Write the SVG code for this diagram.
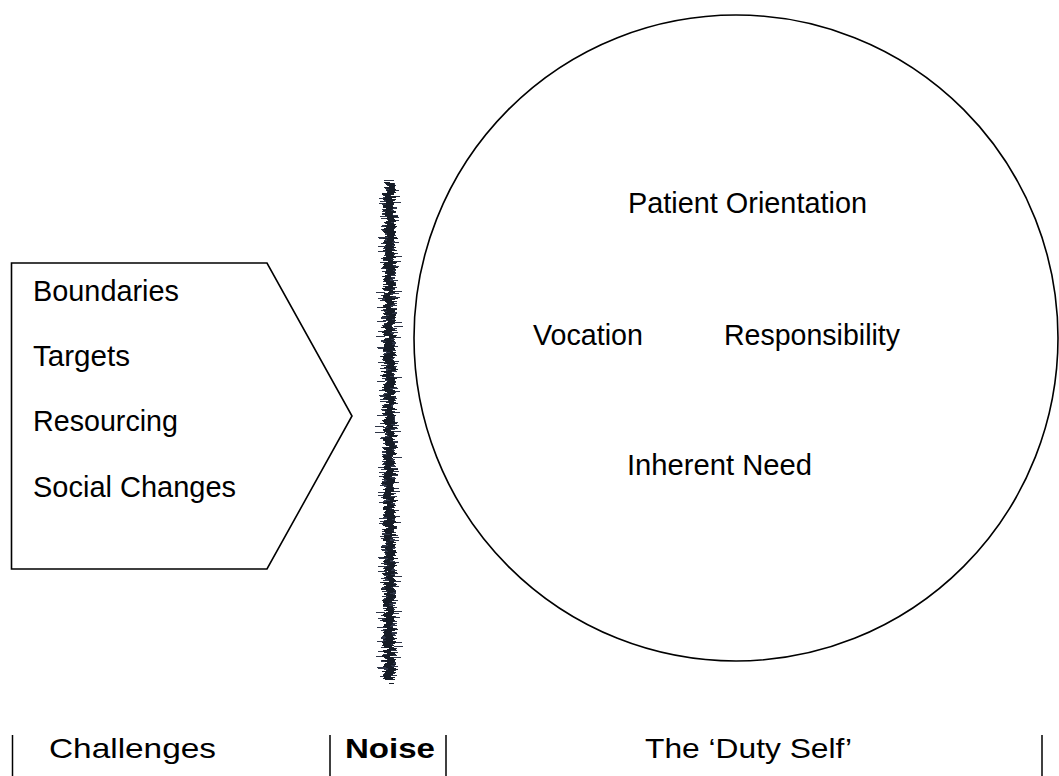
<svg xmlns="http://www.w3.org/2000/svg" width="1059" height="776" viewBox="0 0 1059 776">
  <style>
    .t { font-family: "Liberation Sans", Arial, sans-serif; font-size: 29px; fill: #000; }
    .b { font-family: "Liberation Sans", Arial, sans-serif; font-size: 28px; fill: #000; }
    .shape { fill: #fff; stroke: #000; stroke-width: 1.6; }
    .bar { stroke: #000; stroke-width: 1.5; }
  </style>
  <defs>
    <filter id="rough" x="-300%" y="-5%" width="700%" height="110%">
      <feTurbulence type="fractalNoise" baseFrequency="0.05 0.45" numOctaves="2" seed="7" result="n"/>
      <feDisplacementMap in="SourceGraphic" in2="n" scale="16" xChannelSelector="R" yChannelSelector="G" result="d"/>
      <feGaussianBlur in="d" stdDeviation="0.7"/>
    </filter>
    <filter id="spikes" x="-400%" y="-5%" width="900%" height="110%">
      <feTurbulence type="fractalNoise" baseFrequency="0.01 0.8" numOctaves="1" seed="3" result="n"/>
      <feDisplacementMap in="SourceGraphic" in2="n" scale="40" xChannelSelector="R" yChannelSelector="G" result="d"/>
      <feGaussianBlur in="d" stdDeviation="0.7"/>
    </filter>
  </defs>
  <rect width="1059" height="776" fill="#fff"/>

  <g id="challenges">
    <polygon class="shape" points="11.5,263 267,263 352,416 267,569 11.5,569"/>
    <text class="t" x="33" y="301" textLength="146" lengthAdjust="spacingAndGlyphs">Boundaries</text>
    <text class="t" x="33" y="366" textLength="97" lengthAdjust="spacingAndGlyphs">Targets</text>
    <text class="t" x="33" y="431" textLength="145" lengthAdjust="spacingAndGlyphs">Resourcing</text>
    <text class="t" x="33" y="497" textLength="203" lengthAdjust="spacingAndGlyphs">Social Changes</text>
  </g>

  <g id="noise">
    <rect x="385" y="182" width="9" height="498" fill="#2e3547" filter="url(#spikes)"/>
    <rect x="385" y="182" width="9" height="498" fill="#161b26" filter="url(#rough)"/>
  </g>

  <g id="duty-self">
    <ellipse class="shape" cx="736" cy="338" rx="322" ry="323"/>
    <text class="t" x="628" y="213" textLength="239" lengthAdjust="spacingAndGlyphs">Patient Orientation</text>
    <text class="t" x="533" y="345" textLength="110" lengthAdjust="spacingAndGlyphs">Vocation</text>
    <text class="t" x="724" y="345" textLength="176" lengthAdjust="spacingAndGlyphs">Responsibility</text>
    <text class="t" x="627" y="475" textLength="185" lengthAdjust="spacingAndGlyphs">Inherent Need</text>
  </g>

  <g id="labels">
    <line class="bar" x1="12.5" y1="735" x2="12.5" y2="776"/>
    <line class="bar" x1="330" y1="735" x2="330" y2="776"/>
    <line class="bar" x1="446" y1="735" x2="446" y2="776"/>
    <line class="bar" x1="1042" y1="735" x2="1042" y2="776"/>
    <text class="b" x="49" y="758" textLength="167" lengthAdjust="spacingAndGlyphs">Challenges</text>
    <text class="b" x="345" y="758" font-weight="bold" textLength="90" lengthAdjust="spacingAndGlyphs">Noise</text>
    <text class="b" x="645" y="758" textLength="207" lengthAdjust="spacingAndGlyphs">The ‘Duty Self’</text>
  </g>
</svg>
